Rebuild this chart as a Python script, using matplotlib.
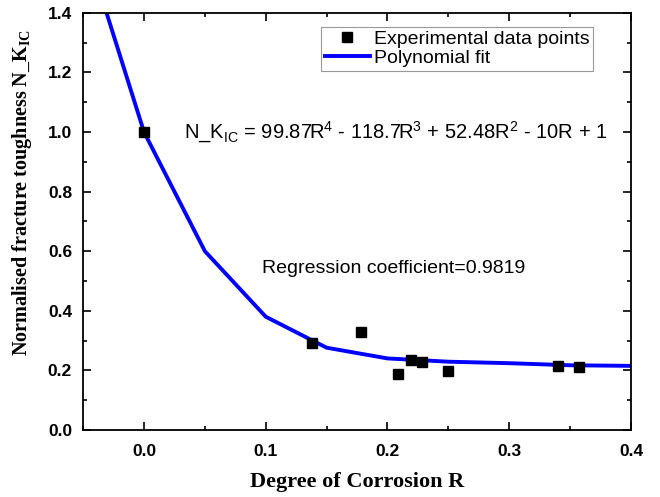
import matplotlib
matplotlib.use("Agg")
import matplotlib.pyplot as plt
from matplotlib.ticker import MultipleLocator

plt.rcParams['mathtext.fontset'] = 'custom'
plt.rcParams['mathtext.rm'] = 'Liberation Sans'
plt.rcParams['mathtext.bf'] = 'Liberation Serif:bold'

# Experimental data
exp_R = [0.0, 0.138, 0.178, 0.209, 0.219, 0.228, 0.250, 0.340, 0.357]
exp_K = [1.0, 0.293, 0.330, 0.187, 0.235, 0.229, 0.197, 0.214, 0.212]

fit_R = [-0.05, 0.0, 0.05, 0.10, 0.15, 0.20, 0.25, 0.30, 0.35, 0.40]
fit_K = [1.65, 1.0, 0.60, 0.38, 0.276, 0.240, 0.229, 0.224, 0.217, 0.215]

xticks = [0.0, 0.1, 0.2, 0.3, 0.4]
yticks = [0.0, 0.2, 0.4, 0.6, 0.8, 1.0, 1.2, 1.4]

fig = plt.figure(figsize=(6.6, 4.97), dpi=100)
ax = fig.add_axes([0.126, 0.135, 0.830, 0.839])

ax.plot(fit_R, fit_K, color=(0, 0, 1), lw=2.8, label="Polynomial fit", zorder=2)
ax.plot(exp_R, exp_K, 's', color='black', ms=6.5, ls='none',
        label="Experimental data points", zorder=3)

ax.set_xlim(-0.05, 0.4)
ax.set_ylim(0, 1.4)
ax.set_xticks(xticks)
ax.set_yticks(yticks)
ax.set_xticklabels([f"{v:.1f}" for v in xticks])
ax.set_yticklabels([f"{v:.1f}" for v in yticks])
ax.xaxis.set_minor_locator(MultipleLocator(0.05))
ax.yaxis.set_minor_locator(MultipleLocator(0.1))

ax.tick_params(which='both', direction='in', top=True, right=True, width=1.2)
ax.tick_params(which='major', length=6)
ax.tick_params(axis='x', which='major', pad=10)
ax.tick_params(axis='y', which='major', pad=8)
ax.tick_params(which='minor', length=3)
for lbl in ax.get_xticklabels() + ax.get_yticklabels():
    lbl.set_fontfamily('Liberation Sans')
    lbl.set_fontweight('bold')
    lbl.set_fontsize(12.5)
for s in ax.spines.values():
    s.set_linewidth(1.3)

ax.set_xlabel("Degree of Corrosion R", family='Liberation Serif', weight='bold',
              size=16, va='baseline')
ax.xaxis.set_label_coords(0.5, -0.137)
ax.set_ylabel(r"Normalised fracture toughness N_K$_{\mathbf{IC}}$",
              family='Liberation Serif', weight='bold', size=14.5)
ax.yaxis.set_label_coords(-0.09, 0.57)

h, l = ax.get_legend_handles_labels()
leg = ax.legend([h[1], h[0]], [l[1], l[0]], loc='upper right',
                bbox_to_anchor=(0.931, 0.967), frameon=True, fancybox=False,
                edgecolor='gray', prop={'family': 'Liberation Sans', 'size': 14},
                handlelength=2.3, handletextpad=0.2, borderpad=0.2,
                labelspacing=0.05, borderaxespad=0)
leg.get_frame().set_linewidth(0.8)

ax.text(0.033, 1.0,
        r"N_K$_{\mathregular{IC}}$ = 99.87R$^{\mathregular{4}}$ - 118.7R$^{\mathregular{3}}$ + 52.48R$^{\mathregular{2}}$ - 10R + 1",
        fontsize=14.5, family='Liberation Sans', va='center', ha='left')
ax.text(0.0966, 0.543, "Regression coefficient=0.9819",
        fontsize=14, family='Liberation Sans', va='center', ha='left')

fig.savefig("out.png", dpi=100)
